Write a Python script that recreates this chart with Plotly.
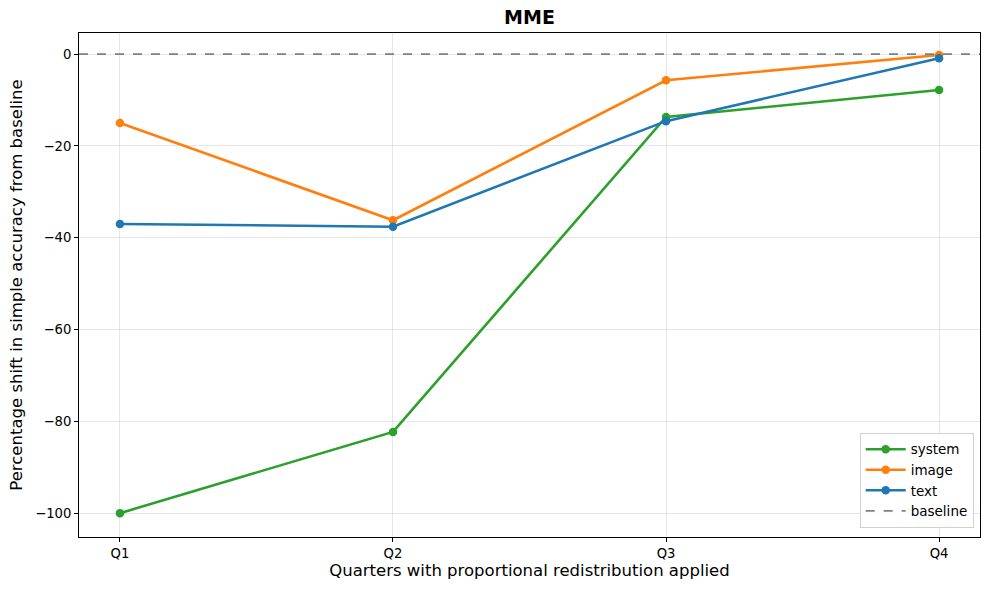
import plotly.graph_objects as go

quarters = ["Q1", "Q2", "Q3", "Q4"]
system_vals = [-100.0, -82.3, -13.7, -7.8]
image_vals = [-15.0, -36.2, -5.7, -0.2]
text_vals = [-37.0, -37.6, -14.6, -0.9]
baseline_val = 0
y_ticks = [0, -20, -40, -60, -80, -100]

xs = list(range(len(quarters)))
fig = go.Figure()
series = [("system", system_vals, "#2ca02c"), ("image", image_vals, "#ff7f0e"), ("text", text_vals, "#1f77b4")]
for name, vals, col in series:
    fig.add_trace(go.Scatter(x=xs, y=vals, name=name, mode="lines+markers",
                             line=dict(color=col, width=2.6),
                             marker=dict(color=col, size=8.5)))
fig.add_trace(go.Scatter(x=[-0.15, 3.15], y=[baseline_val, baseline_val], name="baseline", mode="lines",
                         line=dict(color="gray", width=1.8, dash="dash")))

fig.update_layout(
    width=989, height=590,
    margin=dict(l=79, r=9, t=33, b=53),
    plot_bgcolor="white", paper_bgcolor="white",
    font=dict(family="DejaVu Sans", size=13.9, color="black"),
    title=dict(text="<b>MME</b>", x=0.5, xanchor="center", xref="paper", y=1 - 11/590, yanchor="top",
               font=dict(size=19, family="DejaVu Sans")),
    legend=dict(x=0.993, y=0.018, xanchor="right", yanchor="bottom",
                bordercolor="#d0d0d0", borderwidth=1, bgcolor="rgba(255,255,255,0.8)",
                font=dict(size=13.5), tracegroupgap=2, itemwidth=40),
    showlegend=True,
)
fig.update_xaxes(range=[-0.15, 3.15], tickvals=xs, ticktext=quarters,
                 showline=True, linecolor="black", linewidth=1, mirror=True,
                 ticks="outside", ticklen=4, tickcolor="black",
                 showgrid=True, gridcolor="rgba(176,176,176,0.3)", zeroline=False,
                 title=dict(text="Quarters with proportional redistribution applied", font=dict(size=16.5), standoff=4),
                 tickfont=dict(size=13.2))
fig.update_yaxes(range=[-105.2, 4.6], tickvals=y_ticks, ticktext=[str(v).replace("-", "\u2212") for v in y_ticks],
                 showline=True, linecolor="black", linewidth=1, mirror=True,
                 ticks="outside", ticklen=4, tickcolor="black",
                 showgrid=True, gridcolor="rgba(176,176,176,0.3)", zeroline=False,
                 title=dict(text="Percentage shift in simple accuracy from baseline", font=dict(size=16.5), standoff=8),
                 tickfont=dict(size=13.2))
fig.write_html("out.html", config={"displayModeBar": False},
               post_script="document.body.style.margin='0';")
